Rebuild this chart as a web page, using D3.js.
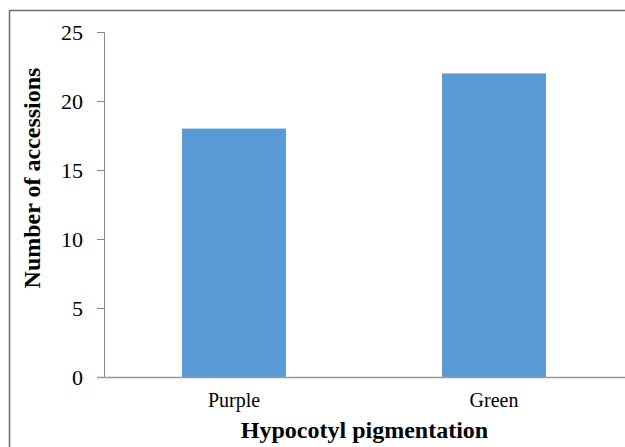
<!DOCTYPE html>
<html>
<head>
<meta charset="utf-8">
<script src="https://cdn.jsdelivr.net/npm/d3@7"></script>
<style>
  html, body { margin: 0; padding: 0; background: #fff; }
  svg { display: block; }
</style>
</head>
<body>
<svg id="chart" width="625" height="447"></svg>
<script>
const categories = ["Purple", "Green"];
const values = [18, 22];
const yTicks = [0, 5, 10, 15, 20, 25];
const xTitle = "Hypocotyl pigmentation";
const yTitle = "Number of accessions";

const W = 625, H = 447;
const margin = { left: 104, right: 1, top: 32, bottom: 70 };
const serif = "'Liberation Serif', 'Times New Roman', serif";
const svg = d3.select("#chart");

// outer border (only top and left visible in the crop)
svg.append("line").attr("x1", 9.5).attr("x2", W).attr("y1", 10.5).attr("y2", 10.5)
  .attr("stroke", "#6b6b6b").attr("stroke-width", 1.5);
svg.append("line").attr("x1", 9.5).attr("x2", 9.5).attr("y1", 10).attr("y2", H)
  .attr("stroke", "#6b6b6b").attr("stroke-width", 1.5);

const x = d3.scaleBand().domain(categories)
  .range([margin.left, W - margin.right]).paddingInner(0.6).paddingOuter(0.3);
const y = d3.scaleLinear().domain([0, 25]).range([H - margin.bottom, margin.top]);

svg.selectAll("rect.bar").data(values).enter().append("rect")
  .attr("class", "bar")
  .attr("x", (d, i) => x(categories[i]))
  .attr("width", x.bandwidth())
  .attr("y", d => y(d))
  .attr("height", d => y(0) - y(d))
  .attr("fill", "#5b9bd5");

// y axis
const yAxis = d3.axisLeft(y).tickValues(yTicks).tickSize(7).tickPadding(14);
const gy = svg.append("g").attr("transform", `translate(${margin.left},0)`).call(yAxis);
gy.select(".domain").attr("stroke", "#888").attr("d", `M-7,${y(25) + 0.5}H0.5V${y(0)}`);
gy.selectAll(".tick line").attr("stroke", "#888");
gy.selectAll(".tick text").attr("font-family", serif)
  .attr("font-size", 22).attr("fill", "#000");

// x axis
const xAxis = d3.axisBottom(x).tickSize(0).tickPadding(16);
const gx = svg.append("g").attr("transform", `translate(0,${y(0)})`).call(xAxis);
gx.select(".domain").attr("stroke", "#999").attr("stroke-width", 1.5)
  .attr("d", `M${margin.left - 7},0.5H${W}`);
gx.selectAll(".tick text").attr("font-family", serif)
  .attr("font-size", 20).attr("fill", "#000");

// titles
svg.append("text").attr("x", (margin.left + W) / 2).attr("y", 438)
  .attr("text-anchor", "middle")
  .attr("font-family", serif)
  .attr("font-weight", "bold").attr("font-size", 24).text(xTitle);
svg.append("text")
  .attr("transform", `translate(40,178) rotate(-90)`)
  .attr("text-anchor", "middle")
  .attr("font-family", serif)
  .attr("font-weight", "bold").attr("font-size", 24).text(yTitle);
</script>
</body>
</html>
